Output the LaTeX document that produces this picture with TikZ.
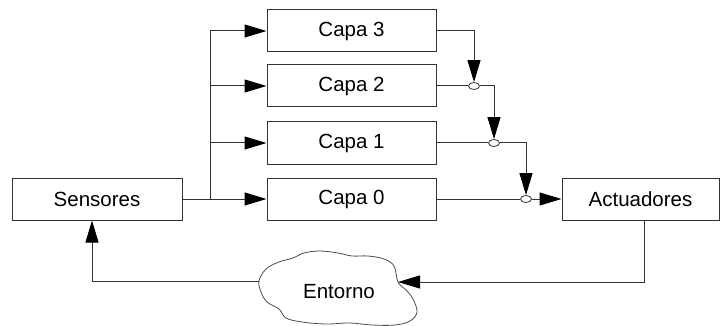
\documentclass[tikz,border=0pt]{standalone}
\usepackage{fontspec}
\setmainfont{Liberation Sans}
\usetikzlibrary{arrows.meta,shapes.geometric}

\begin{document}
\begin{tikzpicture}[x=1pt,y=-1pt,
  lbl/.style={font=\fontsize{20.5}{24}\selectfont,text=black},
  box/.style={lbl,draw=black!80,line width=1pt,fill=white,
    minimum height=42pt,inner sep=0pt},
  capabox/.style={box,minimum width=169pt},
  junc/.style={ellipse,draw=black!80,line width=0.8pt,fill=white,
    minimum width=11pt,minimum height=7pt,inner sep=0pt},
  wire/.style={draw=black!80,line width=1pt},
  arr/.style={wire,-{Triangle[length=22pt,width=13pt,color=black]}}
]
\useasboundingbox (0,0) rectangle (720,326);

% boxes
\node[box,minimum width=170pt] (sens) at (97,199) {Sensores};
\node[capabox] (c3) at (351.5,31) {Capa 3};
\node[capabox] (c2) at (351.5,86) {Capa 2};
\node[capabox] (c1) at (351.5,143) {Capa 1};
\node[capabox] (c0) at (351.5,199) {Capa 0};
\node[box,minimum width=157pt] (act) at (640.5,199) {Actuadores};

% merge points
\node[junc] (j1) at (474,86) {};
\node[junc] (j2) at (494,143) {};
\node[junc] (j3) at (526,199) {};

% environment cloud
\draw[black!70,line width=0.8pt,fill=white] plot[smooth cycle,tension=0.6] coordinates {
  (259,281) (266,269) (279,262) (293,258) (304,253) (320,251) (338,253)
  (352,256) (368,256) (384,259) (394,266) (398,282) (406,290) (413,299)
  (417,312) (410,321) (395,325) (372,325) (350,323) (326,324) (302,322)
  (286,318) (279,309) (267,302) (261,292)};
\node[lbl] (env) at (339,292) {Entorno};
\coordinate (envL) at (259,281);
\coordinate (envR) at (398,282);
\coordinate (bus) at (210,199);

% sensor fan-out to the layers
\draw[arr] (sens.east) -- (c0.west);
\draw[wire] (bus) -- (bus |- c3.west);
\draw[arr] (bus |- c3.west) -- (c3.west);
\draw[arr] (bus |- c2.west) -- (c2.west);
\draw[arr] (bus |- c1.west) -- (c1.west);

% layer outputs merging towards the actuators
\draw[arr] (c3.east) -| (j1.north);
\draw[wire] (c2.east) -- (j1.west);
\draw[arr] (j1.east) -| (j2.north);
\draw[wire] (c1.east) -- (j2.west);
\draw[arr] (j2.east) -| (j3.north);
\draw[wire] (c0.east) -- (j3.west);
\draw[arr] (j3.east) -- (act.west);

% feedback loop through the environment
\draw[arr] ([xshift=4pt]act.south) |- (envR);
\draw[arr] (envL) -| ([xshift=-5pt]sens.south);
\end{tikzpicture}
\end{document}
